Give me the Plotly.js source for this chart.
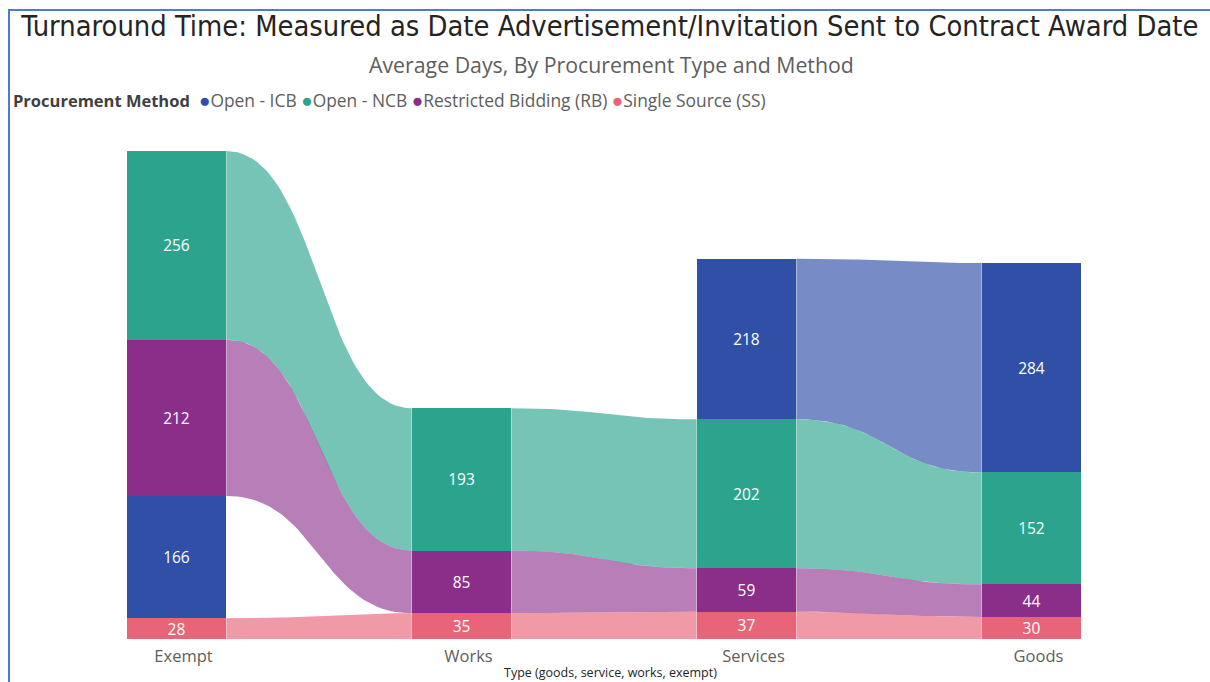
<!DOCTYPE html>
<html>
<head>
<meta charset="utf-8">
<script src="https://cdn.plot.ly/plotly-3.0.1.min.js"></script>
<style>
  html, body { margin: 0; padding: 0; background: #fff; }
  #wrap { position: relative; width: 1210px; height: 682px; overflow: hidden; }
  #chart { width: 1210px; height: 682px; }
  #frame { position: absolute; left: 8px; top: 9px; width: 1300px; height: 700px;
           border-left: 2px solid #4a7bd8; border-top: 2px solid #4a7bd8; pointer-events: none; }
</style>
</head>
<body>
<div id="wrap"><div id="chart"></div><div id="frame"></div></div>
<script>
// ---- data ----
const categories = ['Exempt', 'Works', 'Services', 'Goods'];
const seriesNames = ['Open - ICB', 'Open - NCB', 'Restricted Bidding (RB)', 'Single Source (SS)'];
const openICB = [166, null, 218, 284];
const openNCB = [256, 193, 202, 152];
const restrictedRB = [212, 85, 59, 44];
const singleSS = [28, 35, 37, 30];
const legendTitle = 'Procurement Method';
const chartTitle = 'Turnaround Time: Measured as Date Advertisement/Invitation Sent to Contract Award Date';
const chartSubtitle = 'Average Days, By Procurement Type and Method';
const xAxisTitle = 'Type (goods, service, works, exempt)';

// ---- styles ----
const barColors = ['rgb(48,80,168)', 'rgb(44,164,141)', 'rgb(138,46,138)', 'rgb(232,100,121)'];
const ribbonColors = ['rgba(48,80,168,0.66)', 'rgba(44,164,141,0.65)', 'rgba(138,46,138,0.62)', 'rgba(232,100,121,0.65)'];
const BAR_W = 0.35;
const FONT = 'Segoe UI, Open Sans, sans-serif';

const seriesValues = [openICB, openNCB, restrictedRB, singleSS];
const xs = categories.map((c, i) => i);

// stacking: within each category, smallest at bottom
const bases = seriesValues.map(() => categories.map(() => null));
categories.forEach((c, ci) => {
  const present = seriesValues.map((vals, si) => ({ si, v: vals[ci] })).filter(o => o.v != null);
  present.sort((a, b) => a.v - b.v);
  let acc = 0;
  present.forEach(o => { bases[o.si][ci] = acc; acc += o.v; });
});

const traces = [];

// ribbons
function bez(p0, p1, p2, p3, t) {
  const u = 1 - t;
  return u * u * u * p0 + 3 * u * u * t * p1 + 3 * u * t * t * p2 + t * t * t * p3;
}
seriesValues.forEach((vals, si) => {
  for (let ci = 0; ci < categories.length - 1; ci++) {
    if (vals[ci] == null || vals[ci + 1] == null) continue;
    const x0 = xs[ci] + BAR_W / 2, x1 = xs[ci + 1] - BAR_W / 2, xm = (x0 + x1) / 2;
    const b0 = bases[si][ci], t0 = b0 + vals[ci];
    const b1 = bases[si][ci + 1], t1 = b1 + vals[ci + 1];
    const px = [], py = [];
    const N = 48;
    for (let k = 0; k <= N; k++) {
      const t = k / N;
      px.push(bez(x0, xm, xm, x1, t)); py.push(bez(t0, t0, t1, t1, t));
    }
    for (let k = N; k >= 0; k--) {
      const t = k / N;
      px.push(bez(x0, xm, xm, x1, t)); py.push(bez(b0, b0, b1, b1, t));
    }
    traces.push({
      type: 'scatter', mode: 'lines', x: px, y: py, fill: 'toself',
      fillcolor: ribbonColors[si], line: { width: 0, color: ribbonColors[si] },
      hoverinfo: 'skip', showlegend: false
    });
  }
});

// bars
seriesValues.forEach((vals, si) => {
  traces.push({
    type: 'bar', name: seriesNames[si], x: xs, y: vals, base: bases[si],
    width: BAR_W, marker: { color: barColors[si], line: { width: 0 } },
    text: vals.map(v => v == null ? '' : String(v)),
    textposition: 'inside', insidetextanchor: 'middle', constraintext: 'none', textangle: 0,
    textfont: { color: '#ffffff', size: 15.5, family: FONT },
    hoverinfo: 'skip', showlegend: false
  });
});

const legendText = '<span style="color:#404040;font-size:16.5px"><b>' + legendTitle + '</b></span>  ' + seriesNames.map((n, i) =>
  '<span style="color:' + barColors[i] + ';font-size:19px">●</span>' + n).join(' ');

const layout = {
  width: 1210, height: 682,
  margin: { l: 34, r: 36, t: 123, b: 43 },
  paper_bgcolor: '#ffffff', plot_bgcolor: '#ffffff',
  barmode: 'overlay', bargap: 0,
  showlegend: false,
  title: {
    text: chartTitle, x: 0.504, xref: 'container', xanchor: 'center',
    y: 0.962, yref: 'container', yanchor: 'middle',
    font: { family: 'DejaVu Sans Condensed, sans-serif', size: 28.8, color: '#252423' }
  },
  xaxis: {
    range: [-0.5, 3.5], tickmode: 'array', tickvals: xs, ticktext: categories,
    showgrid: false, zeroline: false, showline: false, ticks: '',
    ticklabelshift: 7, ticklabelstandoff: 5,
    tickfont: { family: FONT, size: 16.5, color: '#605e5c' },
    fixedrange: true
  },
  yaxis: {
    range: [0, 700], showgrid: false, zeroline: false, showline: false,
    showticklabels: false, ticks: '', fixedrange: true
  },
  annotations: [
    { text: chartSubtitle, xref: 'paper', yref: 'paper', x: (611 - 34) / 1140, y: (639 - 64) / 516,
      xanchor: 'center', yanchor: 'middle', showarrow: false,
      font: { family: FONT, size: 21.3, color: '#605e5c' } },
    { text: legendText, xref: 'paper', yref: 'paper', x: (11 - 34) / 1140, y: (639 - 100) / 516,
      xanchor: 'left', yanchor: 'middle', showarrow: false, align: 'left',
      font: { family: FONT, size: 17.4, color: '#605e5c' } },
    { text: xAxisTitle, xref: 'paper', yref: 'paper', x: (610 - 34) / 1140, y: (639 - 672) / 516,
      xanchor: 'center', yanchor: 'middle', showarrow: false,
      font: { family: FONT, size: 12.5, color: '#252423' } }
  ]
};

Plotly.newPlot('chart', traces, layout, { displayModeBar: false, staticPlot: true });
</script>
</body>
</html>
